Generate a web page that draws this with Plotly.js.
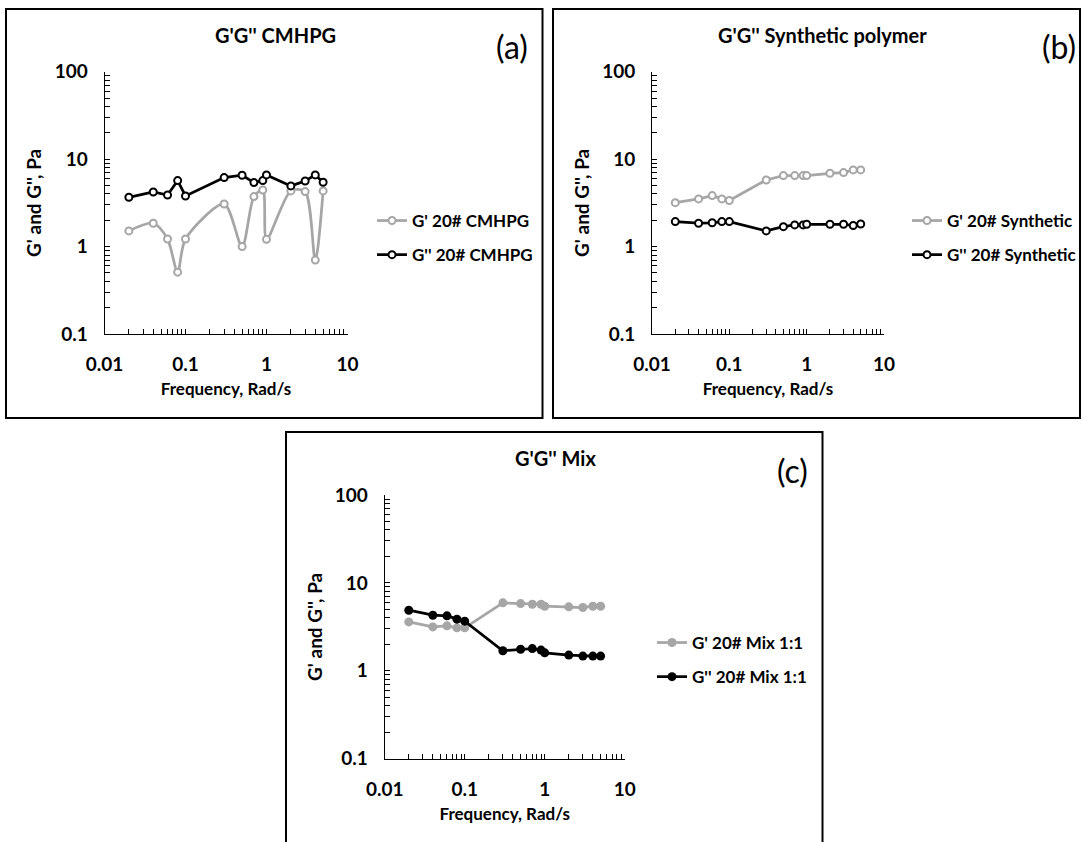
<!DOCTYPE html>
<html>
<head>
<meta charset="utf-8">
<script src="https://cdn.plot.ly/plotly-3.0.1.min.js"></script>
<style>
  html, body { margin: 0; padding: 0; background: #fff; }
  #chart { width: 1083px; height: 842px; }
</style>
</head>
<body>
<div id="chart"></div>
<script>
// ---------------- data ----------------
const freq = [0.02, 0.04, 0.06, 0.08, 0.1, 0.3, 0.5, 0.7, 0.9, 1, 2, 3, 4, 5];

const gp_cmhpg  = [1.51, 1.85, 1.22, 0.51, 1.22, 3.07, 1.00, 3.73, 4.44, 1.21, 4.33, 4.25, 0.70, 4.33];
const gpp_cmhpg = [3.66, 4.21, 3.89, 5.68, 3.79, 6.15, 6.54, 5.39, 5.68, 6.60, 4.94, 5.63, 6.60, 5.44];

const gp_syn  = [3.18, 3.51, 3.83, 3.51, 3.36, 5.78, 6.48, 6.48, 6.48, 6.48, 6.89, 7.01, 7.53, 7.53];
const gpp_syn = [1.93, 1.85, 1.87, 1.93, 1.93, 1.51, 1.69, 1.77, 1.77, 1.80, 1.80, 1.80, 1.74, 1.81];

const gp_mix  = [3.60, 3.16, 3.25, 3.08, 3.08, 5.93, 5.82, 5.72, 5.72, 5.43, 5.34, 5.25, 5.43, 5.43];
const gpp_mix = [4.89, 4.29, 4.22, 3.87, 3.67, 1.69, 1.76, 1.79, 1.72, 1.60, 1.51, 1.47, 1.47, 1.47];

const panelTitles = ["G'G'' CMHPG", "G'G'' Synthetic polymer", "G'G'' Mix"];
const panelTags = ["(a)", "(b)", "(c)"];
const seriesNames = [
  ["G' 20# CMHPG", "G'' 20# CMHPG"],
  ["G' 20# Synthetic", "G'' 20# Synthetic"],
  ["G' 20# Mix 1:1", "G'' 20# Mix 1:1"]
];
const xTitle = "Frequency, Rad/s";
const yTitle = "G' and G'', Pa";

const xTickVals = [0.01,0.02,0.03,0.04,0.05,0.06,0.07,0.08,0.09,0.1,0.2,0.3,0.4,0.5,0.6,0.7,0.8,0.9,1,2,3,4,5,6,7,8,9,10];
const xTickText = xTickVals.map(v => ([0.01,0.1,1,10].includes(v) ? String(v) : ""));
const yTickVals = [0.1,0.2,0.3,0.4,0.5,0.6,0.7,0.8,0.9,1,2,3,4,5,6,7,8,9,10,20,30,40,50,60,70,80,90,100];
const yTickText = yTickVals.map(v => ([0.1,1,10,100].includes(v) ? String(v) : ""));

// ---------------- geometry ----------------
const W = 1083, H = 842;
const px = x => x / W;
const py = y => 1 - y / H;

const GRAY = '#a6a6a6';
const BLACK = '#000000';
const FONT = 'Lato, "Open Sans", "DejaVu Sans", sans-serif';

// panel layout: box (pixel), plot area (pixel)
const panels = [
  { box: [6, 9, 542.5, 418],   plot: [104.5, 71.7, 347.5, 334],   legend: [372, 203] },
  { box: [553, 9, 1080, 418],  plot: [652, 71.7, 884, 334],       legend: [907, 203] },
  { box: [286, 432, 822.5, 845], plot: [384.7, 495, 624.7, 758.7], legend: [652, 625] }
];

const gpSeries = [gp_cmhpg, gp_syn, gp_mix];
const gppSeries = [gpp_cmhpg, gpp_syn, gpp_mix];

const traces = [];
const layout = {
  width: W, height: H,
  margin: { l: 0, r: 0, t: 0, b: 0 },
  paper_bgcolor: '#fff',
  plot_bgcolor: 'rgba(0,0,0,0)',
  showlegend: true,
  font: { family: FONT, color: '#000' },
  shapes: [],
  annotations: []
};

panels.forEach((p, i) => {
  const k = i + 1;
  const xa = k === 1 ? 'x' : 'x' + k;
  const ya = k === 1 ? 'y' : 'y' + k;
  const lg = k === 1 ? 'legend' : 'legend' + k;
  const filled = (i === 2);
  const msize = filled ? 9 : 7;

  traces.push({
    x: freq, y: gpSeries[i], name: seriesNames[i][0],
    xaxis: xa, yaxis: ya, legend: lg, legendgroup: 'g' + k + 'a',
    type: 'scatter', mode: 'lines+markers',
    line: { color: GRAY, width: 2.75, shape: i === 0 ? 'spline' : 'linear', smoothing: 0.8 },
    marker: { symbol: 'circle', size: msize, color: filled ? GRAY : '#ffffff', line: { color: GRAY, width: filled ? 0 : 2 } },
    cliponaxis: false
  });
  traces.push({
    x: freq, y: gppSeries[i], name: seriesNames[i][1],
    xaxis: xa, yaxis: ya, legend: lg, legendgroup: 'g' + k + 'b',
    type: 'scatter', mode: 'lines+markers',
    line: { color: BLACK, width: 2.75 },
    marker: { symbol: 'circle', size: msize, color: filled ? BLACK : '#ffffff', line: { color: BLACK, width: filled ? 0 : 2 } },
    cliponaxis: false
  });

  const [x0, y0, x1, y1] = p.plot;
  const tickfont = { family: FONT, size: 19, color: '#000', weight: 700 };
  layout['xaxis' + (k === 1 ? '' : k)] = {
    type: 'log', range: [-2, 1], domain: [px(x0), px(x1)], anchor: ya,
    showgrid: false, zeroline: false, showline: true, linecolor: '#000', linewidth: 1,
    ticks: 'inside', ticklen: 5, tickwidth: 1, tickcolor: '#000',
    tickmode: 'array', tickvals: xTickVals, ticktext: xTickText,
    tickfont: tickfont, ticklabelstandoff: 13,
    title: { text: xTitle, font: { family: FONT, size: 17, color: '#000', weight: 700 }, standoff: 9 },
    automargin: false, fixedrange: true
  };
  layout['yaxis' + (k === 1 ? '' : k)] = {
    type: 'log', range: [-1, 2], domain: [py(y1), py(y0)], anchor: xa,
    showgrid: false, zeroline: false, showline: true, linecolor: '#000', linewidth: 1,
    ticks: 'inside', ticklen: 5, tickwidth: 1, tickcolor: '#000',
    tickmode: 'array', tickvals: yTickVals, ticktext: yTickText,
    tickfont: tickfont, ticklabelstandoff: 12,
    title: { text: yTitle, font: { family: FONT, size: 19, color: '#000', weight: 700 }, standoff: 7 },
    automargin: false, fixedrange: true
  };

  layout[lg] = {
    x: px(p.legend[0]), y: py(p.legend[1]), xanchor: 'left', yanchor: 'top',
    bgcolor: 'rgba(0,0,0,0)', borderwidth: 0,
    font: { family: FONT, size: 17, color: '#000', weight: 700 },
    traceorder: 'grouped', tracegroupgap: 9, itemwidth: 30
  };

  const [bx0, by0, bx1, by1] = p.box;
  layout.shapes.push({
    type: 'rect', xref: 'paper', yref: 'paper',
    x0: px(bx0), x1: px(bx1), y0: py(by1), y1: py(by0),
    line: { color: '#000', width: 2 }, fillcolor: 'rgba(0,0,0,0)', layer: 'below'
  });

  layout.annotations.push({
    xref: 'paper', yref: 'paper', x: px(bx0 + 269), y: py(by0 + 26),
    xanchor: 'center', yanchor: 'middle', showarrow: false,
    text: panelTitles[i], font: { family: FONT, size: 20, color: '#000', weight: 700 }
  });
  layout.annotations.push({
    xref: 'paper', yref: 'paper', x: px(bx0 + 506), y: py(by0 + 38),
    xanchor: 'center', yanchor: 'middle', showarrow: false,
    text: panelTags[i], font: { family: FONT, size: 32, color: '#000' }
  });
});

Plotly.newPlot('chart', traces, layout, { staticPlot: true, displayModeBar: false });
</script>
</body>
</html>
